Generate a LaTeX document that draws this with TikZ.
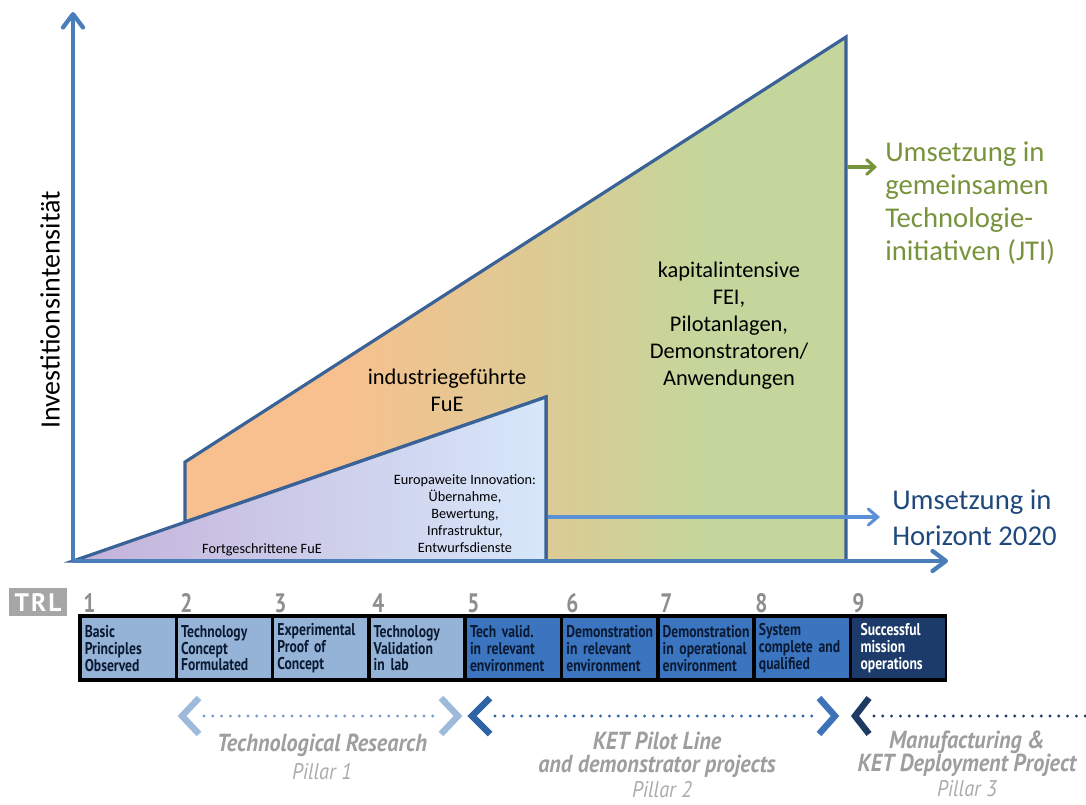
\documentclass[tikz,border=0pt]{standalone}
\usepackage{fontspec}
\setmainfont{Carlito}
\newfontfamily\trlfont[FakeStretch=0.8]{PT Sans}
\newfontfamily\pilfont[FakeStretch=0.9]{PT Sans}
\newfontfamily\trlwide{PT Sans}
\usetikzlibrary{arrows.meta}
\definecolor{axisblue}{HTML}{4A7EBB}
\definecolor{edgeblue}{HTML}{3A6296}
\definecolor{orangeA}{HTML}{F8C08E}
\definecolor{tanB}{HTML}{DDCA93}
\definecolor{greenC}{HTML}{C4D69B}
\definecolor{lilac}{HTML}{C3B1D9}
\definecolor{skyblue}{HTML}{D7E7FA}
\definecolor{jtigreen}{HTML}{77933C}
\definecolor{hztext}{HTML}{1F497D}
\definecolor{hzarrow}{HTML}{5B8FD6}
\definecolor{celllight}{HTML}{95B3D7}
\definecolor{cellmid}{HTML}{3B75C0}
\definecolor{celldark}{HTML}{1C3B6A}
\definecolor{celltext}{HTML}{0B1A33}
\definecolor{numgray}{HTML}{8E8E8E}
\definecolor{trlgray}{HTML}{A6A6A6}
\definecolor{pillargray}{HTML}{9E9E9E}
\definecolor{pillarlight}{HTML}{ABABAB}
\definecolor{pilA}{HTML}{9DBADB}
\definecolor{pilAdots}{HTML}{7A9CC8}
\definecolor{pilB}{HTML}{2E63A6}
\definecolor{pilBB}{HTML}{3C73B8}
\definecolor{pilC}{HTML}{1E3A63}
\pgfdeclarehorizontalshading{feishade}{100bp}{color(0bp)=(orangeA); color(36bp)=(orangeA); color(52bp)=(tanB); color(64bp)=(greenC); color(100bp)=(greenC)}
\tikzset{
  axisline/.style={draw=axisblue, line width=3.2pt, -{Straight Barb[length=10pt,width=15pt,line cap=round,line join=round]}},
  regionedge/.style={draw=edgeblue, line width=2.4pt, line join=miter},
  cell/.style={anchor=north west, minimum height=45pt, text width=65pt, inner xsep=2.3pt, inner ysep=0pt, align=left, text=celltext, font=\trlfont\bfseries\fontsize{12.8}{12.6}\selectfont},
  trlnum/.style={anchor=west, inner sep=0pt, text=numgray, font=\trlfont\bfseries\fontsize{20}{20}\selectfont},
  chev/.style={line width=4.8pt, line join=miter, line cap=butt},
  dots/.style={line width=2.4pt, line cap=round, dash pattern=on 0pt off 6.6pt},
  pillartitle/.style={align=center, inner sep=0pt, text=pillargray, font=\pilfont\bfseries\itshape\fontsize{18.5}{17.5}\selectfont},
  pillarname/.style={align=center, inner sep=0pt, text=pillarlight, font=\pilfont\itshape\fontsize{17}{17}\selectfont},
}
\begin{document}
\begin{tikzpicture}[x=0.75pt,y=-0.75pt]
\useasboundingbox (0,0) rectangle (1086,804);
% coordinates
\coordinate (O) at (73,561);
\coordinate (Ytip) at (73,12);
\coordinate (Xtip) at (948,561);
\coordinate (T1) at (546,397);
\coordinate (T2) at (546,561);
\coordinate (S0) at (185,522);
\coordinate (S1) at (185,462);
\coordinate (G1) at (846,37);
\coordinate (G2) at (846,561);
% regions
\shadedraw[shading=feishade, regionedge] (S0) -- (S1) -- (G1) -- (G2) -- (T2) -- (T1) -- cycle;
\shadedraw[left color=lilac, right color=skyblue, regionedge] (O) -- (T1) -- (T2) -- cycle;
% axes
\draw[axisline] (O) -- (Ytip);
\draw[axisline] (O) -- (Xtip);
% outgoing arrows
\coordinate (H0) at (548,517);
\coordinate (H1) at (880,517);
\draw[hzarrow, line width=2.3pt, -{Straight Barb[length=7pt,width=12pt,line cap=round]}] (H0) -- (H1);
\coordinate (J0) at (847,167);
\coordinate (J1) at (877,167);
\draw[jtigreen, line width=2.3pt, -{Straight Barb[length=6pt,width=11pt,line cap=round]}] (J0) -- (J1);
% labels
\node[rotate=90, inner sep=0pt, font=\fontsize{21}{21}\selectfont] (ylab) at (50,310) {Investitionsintensität};
\node[anchor=west, align=left, inner sep=0pt, text=jtigreen, font=\fontsize{21.5}{24.75}\selectfont] (jti) at (885,203) {Umsetzung in\\gemeinsamen\\Technologie-\\initiativen (JTI)};
\node[anchor=west, align=left, inner sep=0pt, text=hztext, font=\fontsize{21.5}{27}\selectfont] (hz) at (892,518) {Umsetzung in\\Horizont 2020};
\node[align=center, inner sep=0pt, font=\fontsize{16.8}{20.25}\selectfont] (ind) at (447,390) {industriegeführte\\FuE};
\node[align=center, inner sep=0pt, font=\fontsize{16.8}{20.25}\selectfont] (kap) at (729,326) {kapitalintensive\\FEI,\\Pilotanlagen,\\Demonstratoren/\\Anwendungen};
\node[align=center, inner sep=0pt, font=\fontsize{10.7}{12.75}\selectfont] (eur) at (465,514) {Europaweite Innovation:\\Übernahme,\\Bewertung,\\Infrastruktur,\\Entwurfsdienste};
\node[inner sep=0pt, font=\fontsize{10.7}{12.75}\selectfont] (fort) at (262,550) {Fortgeschrittene FuE};
% TRL
\node[fill=trlgray, text=white, inner sep=0pt, minimum width=44pt, minimum height=21pt, font=\trlwide\bfseries\fontsize{19}{19}\selectfont] (trl) at (38,602) {T\hspace{1.5pt}R\hspace{1.5pt}L};
\fill[black] (78,614) rectangle (947,682);
\node[cell, fill=celllight] (c1) at (81.5,618) {Basic\\Principles\\Observed};
\node[cell, fill=celllight] (c2) at (177.8,618) {Technology\\Concept\\Formulated};
\node[cell, fill=celllight] (c3) at (274.1,618) {Experimental\\Proof of\\Concept};
\node[cell, fill=celllight] (c4) at (370.4,618) {Technology\\Validation\\in lab};
\node[cell, fill=cellmid] (c5) at (466.7,618) {Tech valid.\\in relevant\\environment};
\node[cell, fill=cellmid] (c6) at (563,618) {Demonstration\\in relevant\\environment};
\node[cell, fill=cellmid] (c7) at (659.3,618) {Demonstration\\in operational\\environment};
\node[cell, fill=cellmid] (c8) at (755.6,618) {System\\complete and\\qualified};
\node[cell, fill=celldark, text=white] (c9) at (851.9,618) {\hspace*{4pt}Successful\\\hspace*{4pt}mission\\\hspace*{4pt}operations};
\node[trlnum] (n1) at (83,603) {1};
\node[trlnum] (n2) at (180,603) {2};
\node[trlnum] (n3) at (274,603) {3};
\node[trlnum] (n4) at (372,603) {4};
\node[trlnum] (n5) at (467,603) {5};
\node[trlnum] (n6) at (566,603) {6};
\node[trlnum] (n7) at (660,603) {7};
\node[trlnum] (n8) at (755,603) {8};
\node[trlnum] (n9) at (852,603) {9};
% pillars
\draw[chev, pilA] (199,698) -- (182,716) -- (199,734);
\draw[chev, pilA] (441,698) -- (458,716) -- (441,734);
\draw[dots, pilAdots] (204,716) -- (436,716);
\draw[chev, pilB] (490,698) -- (472,716) -- (490,734);
\draw[chev, pilBB] (819,698) -- (835,716) -- (819,734);
\draw[dots, pilB] (495,716) -- (814,716);
\draw[chev, pilC] (869,698) -- (855,716) -- (869,734);
\draw[dots, pilC] (874,716) -- (1086,716);
\node[pillartitle] (t1) at (322,745) {Technological Research};
\node[pillarname] (p1) at (322,772) {Pillar 1};
\node[pillartitle] (t2) at (657,755) {KET Pilot Line\\and demonstrator projects};
\node[pillarname] (p2) at (662,790) {Pillar 2};
\node[pillartitle] (t3) at (967,754) {Manufacturing \&\\KET Deployment Project};
\node[pillarname] (p3) at (967,789) {Pillar 3};
\end{tikzpicture}
\end{document}
